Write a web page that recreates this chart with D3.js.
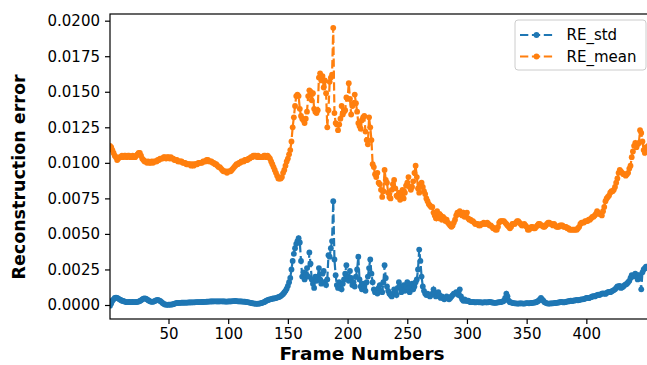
<!DOCTYPE html>
<html><head><meta charset="utf-8">
<script src="https://cdn.jsdelivr.net/npm/d3@7"></script>
<style>body{margin:0;background:#fff}svg{display:block}text{font-family:"DejaVu Sans",sans-serif;fill:#000}</style>
</head><body><svg id="c" width="647" height="365"></svg>
<script>
const RE_std = [
-0.00005,0.0001,0.0003,0.0004,0.0005,0.00052,0.0005,0.00045,0.0004,0.00035,
0.0003,0.00028,0.00025,0.00022,0.0002,0.0002,0.00021,0.0002,0.0002,0.00021,
0.0002,0.0002,0.00021,0.00022,0.00024,0.00028,0.00033,0.0004,0.00045,0.00046,
0.00045,0.0004,0.00034,0.00028,0.00024,0.00022,0.00023,0.00026,0.0003,0.00034,
0.00036,0.00033,0.00028,0.00022,0.00014,0.00008,0.00004,0.00002,0.00001,0.00002,
0.00003,0.00002,0.00004,0.00006,0.0001,0.00012,0.00014,0.00014,0.00015,0.00015,
0.00016,0.00016,0.00016,0.00016,0.00017,0.00017,0.00018,0.00018,0.00018,0.00019,
0.00019,0.00019,0.0002,0.0002,0.0002,0.0002,0.0002,0.00021,0.00021,0.00022,
0.00022,0.00023,0.00024,0.00024,0.00025,0.00025,0.00025,0.00026,0.00026,0.00026,
0.00025,0.00025,0.00026,0.00026,0.00026,0.00025,0.00025,0.00024,0.00024,0.00025,
0.00025,0.00026,0.00026,0.00027,0.00027,0.00028,0.00027,0.00026,0.00026,0.00025,
0.00025,0.00024,0.00024,0.00023,0.00022,0.0002,0.00019,0.00017,0.00015,0.00013,
0.00011,0.0001,0.00009,0.00008,0.00009,0.0001,0.00012,0.00014,0.00017,0.0002,
0.00025,0.0003,0.00034,0.00037,0.0004,0.00042,0.00044,0.00046,0.00047,0.00049,
0.00052,0.00055,0.00058,0.00063,0.0007,0.00078,0.00088,0.001,0.00115,0.00135,
0.0016,0.0019,0.0025,0.0031,0.0036,0.0040,0.0043,0.0045,0.0047,0.0044,
0.0031,0.0020,0.0023,0.0018,0.0021,0.0026,0.0020,0.0037,0.0029,0.0018,
0.0015,0.0012,0.0020,0.0017,0.0020,0.0026,0.0018,0.0015,0.0022,0.0024,
0.0016,0.0014,0.0018,0.0035,0.0034,0.0040,0.0045,0.0073,0.0032,0.0021,
0.0014,0.0012,0.0016,0.0013,0.0011,0.0015,0.0018,0.0022,0.0028,0.0020,
0.0017,0.0024,0.0019,0.0014,0.0016,0.0013,0.0020,0.0025,0.0034,0.0018,
0.0013,0.0011,0.0015,0.0012,0.0010,0.0016,0.0020,0.0026,0.0032,0.0022,
0.0016,0.0011,0.0009,0.0010,0.0008,0.0012,0.0014,0.0010,0.0009,0.0016,
0.0028,0.0019,0.0013,0.0010,0.0008,0.0007,0.0006,0.0008,0.0011,0.0009,
0.0007,0.0012,0.0016,0.0013,0.0009,0.0012,0.0014,0.0010,0.0013,0.0016,
0.0012,0.0009,0.0013,0.0015,0.0011,0.0013,0.0016,0.0018,0.0025,0.0039,
0.0031,0.0020,0.0013,0.0010,0.0008,0.0007,0.0008,0.0007,0.0006,0.0007,
0.0008,0.0011,0.0008,0.0006,0.0007,0.0009,0.0007,0.0005,0.0006,0.0005,
0.0004,0.0005,0.0006,0.0005,0.0004,0.0005,0.0006,0.0007,0.0008,0.0008,
0.0009,0.0008,0.0007,0.0011,0.0006,0.0004,0.0003,0.0004,0.0003,0.0003,
0.0003,0.00025,0.0002,0.0002,0.00022,0.0002,0.00018,0.0002,0.0002,0.00019,
0.0002,0.00018,0.00017,0.00018,0.0002,0.00019,0.00018,0.0002,0.00022,0.0002,
0.00018,0.00016,0.00015,0.00015,0.00017,0.00018,0.0002,0.0002,0.00022,0.00025,
0.0003,0.0005,0.0008,0.0006,0.0003,0.0002,0.00018,0.00015,0.00013,0.00012,
0.00012,0.0001,0.0001,0.00011,0.00012,0.00012,0.0001,0.0001,0.00012,0.00013,
0.00013,0.00012,0.00013,0.00014,0.00015,0.00016,0.00018,0.0002,0.00025,0.0003,
0.0004,0.0005,0.0004,0.0003,0.0002,0.00015,0.00012,0.0001,0.0001,0.00011,
0.00012,0.00012,0.00013,0.00014,0.00015,0.00016,0.00018,0.0002,0.00022,0.0002,
0.00018,0.0002,0.00022,0.00025,0.00025,0.00028,0.0003,0.00028,0.0003,0.00032,
0.00033,0.00035,0.00033,0.00035,0.00038,0.0004,0.0004,0.00042,0.00045,0.0005,
0.0005,0.00048,0.00052,0.00055,0.0006,0.00062,0.0006,0.00065,0.0007,0.00072,
0.0007,0.00075,0.0008,0.00082,0.0008,0.00078,0.00085,0.0009,0.00092,0.0009,
0.00095,0.001,0.00105,0.0011,0.0012,0.0013,0.0013,0.00135,0.0012,0.00125,
0.0013,0.0014,0.00145,0.0015,0.0016,0.0017,0.0019,0.0021,0.0020,0.0021,
0.0022,0.0020,0.0018,0.0021,0.0019,0.0011,0.0023,0.0025,0.0026,0.0027,
0.0026,0.0027,0.0028,0.0027,0.0028
];
const RE_mean = [
0.0112,0.0111,0.0109,0.0107,0.0105,0.0104,0.0102,0.0103,0.0104,0.0104,
0.0105,0.0104,0.0105,0.0105,0.0104,0.0105,0.0105,0.0104,0.0104,0.0105,
0.0104,0.0104,0.0105,0.0106,0.0107,0.0107,0.0105,0.0103,0.0102,0.0101,
0.0101,0.0100,0.0101,0.0100,0.0100,0.0101,0.0100,0.0101,0.0101,0.0101,
0.0102,0.0102,0.0103,0.0103,0.0103,0.0104,0.0104,0.0103,0.0104,0.0104,
0.0103,0.0104,0.0103,0.0103,0.0102,0.0102,0.0102,0.0101,0.0101,0.0101,
0.0101,0.0100,0.0100,0.0100,0.0099,0.0099,0.0099,0.0099,0.0098,0.0099,
0.0098,0.0099,0.0099,0.0099,0.0100,0.0100,0.0100,0.0100,0.0101,0.0101,
0.0101,0.0102,0.0102,0.0101,0.0101,0.0101,0.0100,0.0100,0.0099,0.0099,
0.0098,0.0097,0.0097,0.0096,0.0095,0.0094,0.0094,0.0094,0.0093,0.0094,
0.0094,0.0094,0.0095,0.0096,0.0097,0.0098,0.0099,0.0099,0.0100,0.0100,
0.0101,0.0101,0.0101,0.0102,0.0102,0.0102,0.0103,0.0103,0.0104,0.0104,
0.0105,0.0105,0.0105,0.0104,0.0105,0.0104,0.0104,0.0104,0.0104,0.0105,
0.0105,0.0104,0.0105,0.0104,0.0103,0.0101,0.0099,0.0097,0.0095,0.0093,
0.0091,0.0089,0.0089,0.0089,0.0090,0.0093,0.0095,0.0098,0.0101,0.0103,
0.0106,0.0109,0.0115,0.0125,0.0132,0.0140,0.0147,0.0148,0.0147,0.0138,
0.0133,0.0131,0.0130,0.0128,0.0131,0.0136,0.0147,0.0151,0.0150,0.0144,
0.0149,0.0138,0.0136,0.0135,0.0137,0.0160,0.0163,0.0158,0.0161,0.0153,
0.0158,0.0149,0.0125,0.0137,0.0157,0.0160,0.0162,0.0195,0.0135,0.0128,
0.0127,0.0123,0.0127,0.0131,0.0140,0.0134,0.0136,0.0137,0.0146,0.0145,
0.0156,0.0145,0.0134,0.0140,0.0142,0.0148,0.0142,0.0136,0.0128,0.0126,
0.0124,0.0130,0.0132,0.0133,0.0122,0.0116,0.0113,0.0132,0.0125,0.0116,
0.0099,0.0097,0.0092,0.0090,0.0093,0.0086,0.0085,0.0081,0.0076,0.0080,
0.0095,0.0088,0.0086,0.0079,0.0076,0.0075,0.0081,0.0085,0.0088,0.0082,
0.0077,0.0076,0.0079,0.0074,0.0078,0.0081,0.0075,0.0079,0.0084,0.0086,
0.0090,0.0083,0.0081,0.0083,0.0087,0.0093,0.0098,0.0090,0.0082,0.0079,
0.0085,0.0086,0.0083,0.0080,0.0078,0.0075,0.0073,0.0071,0.0070,0.0069,
0.0069,0.0065,0.0063,0.0061,0.0066,0.0061,0.0064,0.0063,0.0060,0.0062,
0.0061,0.0059,0.0060,0.0058,0.0057,0.0056,0.0055,0.0056,0.0058,0.0060,
0.0063,0.0065,0.0064,0.0066,0.0064,0.0063,0.0065,0.0062,0.0064,0.0065,
0.0061,0.0060,0.0060,0.0059,0.0059,0.0058,0.0057,0.0057,0.0057,0.0056,
0.0056,0.0057,0.0057,0.0058,0.0057,0.0057,0.0058,0.0057,0.0056,0.0056,
0.0055,0.0054,0.0054,0.0053,0.0053,0.0055,0.0058,0.0059,0.0059,0.0059,
0.0059,0.0058,0.0057,0.0056,0.0055,0.0054,0.0055,0.0057,0.0057,0.0057,
0.0058,0.0059,0.0059,0.0058,0.0057,0.0056,0.0056,0.0057,0.0056,0.0055,
0.0053,0.0053,0.0054,0.0055,0.0055,0.0054,0.0054,0.0055,0.0056,0.0057,
0.0057,0.0056,0.0056,0.0055,0.0055,0.0056,0.0057,0.0058,0.0058,0.0057,
0.0057,0.0056,0.0057,0.0056,0.0055,0.0055,0.0055,0.0056,0.0056,0.0056,
0.0055,0.0055,0.0055,0.0054,0.0054,0.0053,0.0053,0.0053,0.0053,0.0053,
0.0053,0.0053,0.0054,0.0055,0.0057,0.0058,0.0058,0.0058,0.0059,0.0059,
0.0059,0.0060,0.0060,0.0061,0.0062,0.0062,0.0063,0.0064,0.0066,0.0065,
0.0064,0.0064,0.0063,0.0066,0.0069,0.0073,0.0075,0.0076,0.0077,0.0079,
0.0080,0.0080,0.0081,0.0083,0.0086,0.0089,0.0093,0.0095,0.0094,0.0093,
0.0092,0.0092,0.0091,0.0092,0.0093,0.0096,0.0098,0.0104,0.0108,0.0112,
0.0114,0.0111,0.0113,0.0114,0.0123,0.0121,0.0115,0.0109,0.0107,0.0111,
0.0110,0.0112,0.0108,0.0106,0.0107
];
const seriesNames = ["RE_std", "RE_mean"];
const seriesColors = ["#1f77b4", "#ff7f0e"];
const xTicks = [50, 100, 150, 200, 250, 300, 350, 400];
const yTicks = [0, 0.0025, 0.005, 0.0075, 0.01, 0.0125, 0.015, 0.0175, 0.02];
const xLabel = "Frame Numbers";
const yLabel = "Reconstruction error";

const svg = d3.select("#c");
const L = 110, R = 652, T = 14, B = 319;
const x = d3.scaleLinear().domain([1, 455]).range([L, R]);
const y = d3.scaleLinear().domain([-0.000985, 0.02047]).range([B, T]);

svg.append("defs").append("clipPath").attr("id", "clip")
  .append("rect").attr("x", L).attr("y", T).attr("width", R - L).attr("height", B - T);

const plot = svg.append("g").attr("clip-path", "url(#clip)");
const series = [RE_std, RE_mean];
series.forEach((vals, si) => {
  const pts = vals.map((v, i) => ({f: i + 1, v}));
  const line = d3.line().x(d => x(d.f)).y(d => y(d.v));
  plot.append("path").datum(pts).attr("d", line)
    .attr("fill", "none").attr("stroke", seriesColors[si])
    .attr("stroke-width", 2.2).attr("stroke-dasharray", "8.3,3.6");
  plot.append("g").selectAll("circle").data(pts).join("circle")
    .attr("cx", d => x(d.f)).attr("cy", d => y(d.v)).attr("r", 2.9)
    .attr("fill", seriesColors[si]);
});

// axes
const xa = svg.append("g").attr("transform", `translate(0,${B})`)
  .call(d3.axisBottom(x).tickValues(xTicks).tickFormat(d3.format("d")).tickSize(5).tickPadding(4));
const ya = svg.append("g").attr("transform", `translate(${L},0)`)
  .call(d3.axisLeft(y).tickValues(yTicks).tickFormat(d3.format(".4f")).tickSize(5).tickPadding(5));
[xa, ya].forEach(a => {
  a.select(".domain").remove();
  a.selectAll(".tick line").attr("stroke", "#000").attr("stroke-width", 1.2);
  a.selectAll(".tick text").attr("font-size", 15).attr("font-family", "DejaVu Sans").attr("fill", "#222");
});

// spines
svg.append("rect").attr("x", L).attr("y", T).attr("width", R - L).attr("height", B - T)
  .attr("fill", "none").attr("stroke", "#000").attr("stroke-width", 1.2);

// labels
svg.append("text").attr("x", 362).attr("y", 360).attr("text-anchor", "middle")
  .attr("font-size", 18.5).attr("font-weight", "bold").text(xLabel);
svg.append("text").attr("transform", "translate(25,177) rotate(-90)").attr("text-anchor", "middle")
  .attr("font-size", 17.5).attr("font-weight", "bold").text(yLabel);

// legend
const lg = svg.append("g");
lg.append("rect").attr("x", 515).attr("y", 20).attr("width", 131).attr("height", 50).attr("rx", 3)
  .attr("fill", "#fff").attr("fill-opacity", 0.8).attr("stroke", "#ccc").attr("stroke-width", 1);
seriesNames.forEach((n, i) => {
  const yy = 35 + i * 21.5;
  lg.append("line").attr("x1", 520).attr("x2", 553).attr("y1", yy).attr("y2", yy)
    .attr("stroke", seriesColors[i]).attr("stroke-width", 2.2).attr("stroke-dasharray", "8.3,3.6");
  lg.append("circle").attr("cx", 536.5).attr("cy", yy).attr("r", 2.9).attr("fill", seriesColors[i]);
  lg.append("text").attr("x", 566.5).attr("y", yy + 5.3).attr("font-size", 15).attr("fill", "#222").text(n);
});
</script></body></html>
